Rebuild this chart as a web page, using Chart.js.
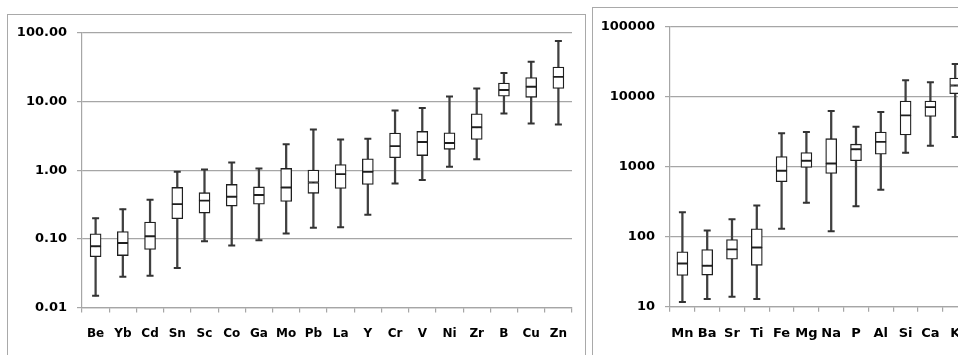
<!DOCTYPE html>
<html>
<head>
<meta charset="utf-8">
<script src="https://cdn.jsdelivr.net/npm/chart.js@4.4.1/dist/chart.umd.min.js"></script>
<style>
    html, body { margin: 0; padding: 0; background: #fff; overflow: hidden; width: 958px; height: 355px; }
    .panel { position: absolute; border: 1.5px solid #a9a9a9; box-sizing: border-box; }
    canvas { position: absolute; }
</style>
</head>
<body>
<div class="panel" style="left:7px; top:14px; width:579px; height:360px;"></div>
<div class="panel" style="left:592px; top:7px; width:400px; height:370px;"></div>
<canvas id="left-chart" width="576" height="340" style="left:8px; top:15px;"></canvas>
<canvas id="right-chart" width="390" height="346" style="left:593px; top:9px;"></canvas>
<script>
// Left panel: trace elements
const leftLabels = ['Be', 'Yb', 'Cd', 'Sn', 'Sc', 'Co', 'Ga', 'Mo', 'Pb', 'La', 'Y', 'Cr', 'V', 'Ni', 'Zr', 'B', 'Cu', 'Zn'];
const leftMin = [0.0148, 0.028, 0.029, 0.0375, 0.092, 0.08, 0.095, 0.12, 0.145, 0.148, 0.224, 0.64, 0.72, 1.12, 1.44, 6.7, 4.78, 4.62];
const leftQ1  = [0.055, 0.057, 0.07, 0.196, 0.237, 0.30, 0.32, 0.35, 0.46, 0.54, 0.62, 1.52, 1.63, 2.01, 2.8, 11.9, 11.5, 15.5];
const leftMed = [0.078, 0.087, 0.109, 0.32, 0.36, 0.41, 0.435, 0.56, 0.66, 0.875, 0.95, 2.24, 2.57, 2.48, 4.22, 14.7, 16.4, 22.8];
const leftQ3  = [0.118, 0.128, 0.175, 0.56, 0.47, 0.62, 0.57, 1.06, 1.0, 1.21, 1.46, 3.46, 3.66, 3.5, 6.6, 18.5, 22.3, 31.8];
const leftMax = [0.20, 0.27, 0.37, 0.95, 1.02, 1.29, 1.06, 2.38, 3.9, 2.8, 2.87, 7.36, 8.05, 11.8, 15.4, 26, 38, 76];
const leftTicks = [0.01, 0.1, 1, 10, 100];
const leftTickLabels = ['0.01', '0.10', '1.00', '10.00', '100.00'];

// Right panel: major elements
const rightLabels = ['Mn', 'Ba', 'Sr', 'Ti', 'Fe', 'Mg', 'Na', 'P', 'Al', 'Si', 'Ca', 'K'];
const rightMin = [11.7, 12.9, 13.9, 12.9, 130, 305, 120, 273, 471, 1580, 1990, 2670];
const rightQ1  = [28, 28.3, 47.8, 39, 613, 980, 803, 1217, 1515, 2850, 5250, 11100];
const rightMed = [41.5, 38.4, 66, 70, 877, 1217, 1115, 1780, 2265, 5420, 7110, 14500];
const rightQ3  = [60.7, 65.6, 91, 130, 1400, 1600, 2520, 2100, 3140, 8660, 8660, 18500];
const rightMax = [224, 123, 177, 279, 3010, 3140, 6240, 3735, 6040, 17200, 16100, 29300];
const rightTicks = [10, 100, 1000, 10000, 100000];
const rightTickLabels = ['10', '100', '1000', '10000', '100000'];

const GRID = '#a6a6a6';
const FONT = 'DejaVu Sans';

/**
 * Build a box-and-whisker chart from floating bars and cap points
 */
function makeBoxChart(id, labels, mins, q1s, meds, q3s, maxs, ticks, tickLabels, cfg) {
    const ctx = document.getElementById(id);
    const range = (a, b) => a.map((v, i) => [v, b[i]]);
    const boxStyle = {
        type: 'bar',
        grouped: false,
        barThickness: cfg.boxWidth,
        backgroundColor: '#ffffff',
        borderColor: '#1f1f1f',
        borderWidth: 1.3,
        borderSkipped: false,
        order: 2
    };
    const capStyle = {
        type: 'line',
        showLine: false,
        pointStyle: 'line',
        pointRadius: cfg.capRadius,
        pointBorderWidth: 2,
        pointBorderColor: '#333333',
        borderColor: '#333333',
        order: 1
    };

    return new Chart(ctx, {
        type: 'bar',
        data: {
            labels: labels,
            datasets: [
                {
                    type: 'bar',
                    grouped: false,
                    data: range(mins, maxs),
                    barThickness: 1.6,
                    backgroundColor: '#404040',
                    borderWidth: 0,
                    order: 3
                },
                Object.assign({ data: range(q1s, meds) }, boxStyle),
                Object.assign({ data: range(meds, q3s) }, boxStyle),
                Object.assign({ data: maxs }, capStyle),
                Object.assign({ data: mins }, capStyle)
            ]
        },
        options: {
            responsive: false,
            animation: false,
            layout: {
                padding: { left: 0, right: cfg.padRight, top: cfg.padTop, bottom: 0 }
            },
            plugins: {
                legend: { display: false },
                tooltip: { enabled: false }
            },
            scales: {
                x: {
                    type: 'category',
                    offset: true,
                    grid: {
                        offset: true,
                        drawOnChartArea: false,
                        drawTicks: true,
                        tickLength: 5,
                        color: GRID,
                        lineWidth: 1.2
                    },
                    border: { color: GRID, width: 1.2 },
                    ticks: {
                        color: '#000',
                        padding: cfg.xPad,
                        maxRotation: 0,
                        autoSkip: false,
                        font: { family: FONT, size: cfg.xFont, weight: 'bold' }
                    },
                    afterFit: function(scale) { scale.height = cfg.xHeight; }
                },
                y: {
                    type: 'logarithmic',
                    min: ticks[0],
                    max: ticks[ticks.length - 1],
                    grid: {
                        color: GRID,
                        lineWidth: 1.2,
                        tickLength: 5
                    },
                    border: { color: GRID, width: 1.2 },
                    ticks: {
                        color: '#000',
                        padding: 10,
                        font: { family: FONT, size: 13, weight: 'bold' },
                        callback: function(value, index) {
                            return tickLabels[index];
                        }
                    },
                    afterBuildTicks: function(scale) {
                        scale.ticks = ticks.map(v => ({ value: v }));
                    },
                    afterFit: function(scale) { scale.width = cfg.yWidth; }
                }
            }
        }
    });
}

makeBoxChart('left-chart', leftLabels, leftMin, leftQ1, leftMed, leftQ3, leftMax,
    leftTicks, leftTickLabels,
    { boxWidth: 11, capRadius: 3.5, padRight: 12, padTop: 15.7, xHeight: 47.5, yWidth: 74, xPad: 14, xFont: 12 });

makeBoxChart('right-chart', rightLabels, rightMin, rightQ1, rightMed, rightQ3, rightMax,
    rightTicks, rightTickLabels,
    { boxWidth: 11, capRadius: 3.5, padRight: 15.4, padTop: 16, xHeight: 48.3, yWidth: 77, xPad: 14, xFont: 13 });
</script>
</body>
</html>
